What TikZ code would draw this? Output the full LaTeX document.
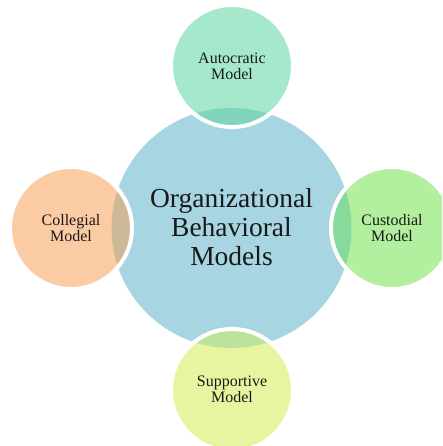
\documentclass[tikz,border=0pt]{standalone}
\usepackage{fontspec}
\setmainfont{Liberation Serif}
\definecolor{cblue}{HTML}{A7D5E2}
\definecolor{ctop}{HTML}{A6E8CC}\definecolor{otop}{HTML}{7FD4BB}
\definecolor{cleft}{HTML}{FBCBA4}\definecolor{oleft}{HTML}{CDB898}
\definecolor{cright}{HTML}{B2EF9F}\definecolor{oright}{HTML}{86DA9C}
\definecolor{cbot}{HTML}{E8F4A0}\definecolor{obot}{HTML}{BDE29C}
\tikzset{
  smalltext/.style={font=\fontsize{16}{16}\selectfont, align=center, text=black!90},
  bigtext/.style={font=\fontsize{27.5}{29}\selectfont, align=center, text=black!90},
}
\begin{document}
\begin{tikzpicture}[x=1pt,y=-1pt]
\useasboundingbox (0,0) rectangle (442,446);
\begin{scope}
\clip (0,0) rectangle (442,446);
\fill[cblue] (231.5,228) circle[radius=120];
\foreach \cx/\cy/\fc/\oc in {232/66/ctop/otop, 71/228/cleft/oleft, 392/228/cright/oright, 232/390/cbot/obot}{
  \fill[\fc] (\cx,\cy) circle[radius=61];
  \begin{scope}
    \clip (\cx,\cy) circle[radius=61];
    \fill[\oc] (231.5,228) circle[radius=120];
  \end{scope}
  \draw[white, line width=4pt] (\cx,\cy) circle[radius=61];
}
\end{scope}
\node[bigtext] (center) at (231.5,227) {Organizational\\Behavioral\\Models};
\node[smalltext] (top) at (232,66) {Autocratic\\Model};
\node[smalltext] (left) at (71,228) {Collegial\\Model};
\node[smalltext] (right) at (392,228) {Custodial\\Model};
\node[smalltext] (bottom) at (232,389) {Supportive\\Model};
\end{tikzpicture}
\end{document}
